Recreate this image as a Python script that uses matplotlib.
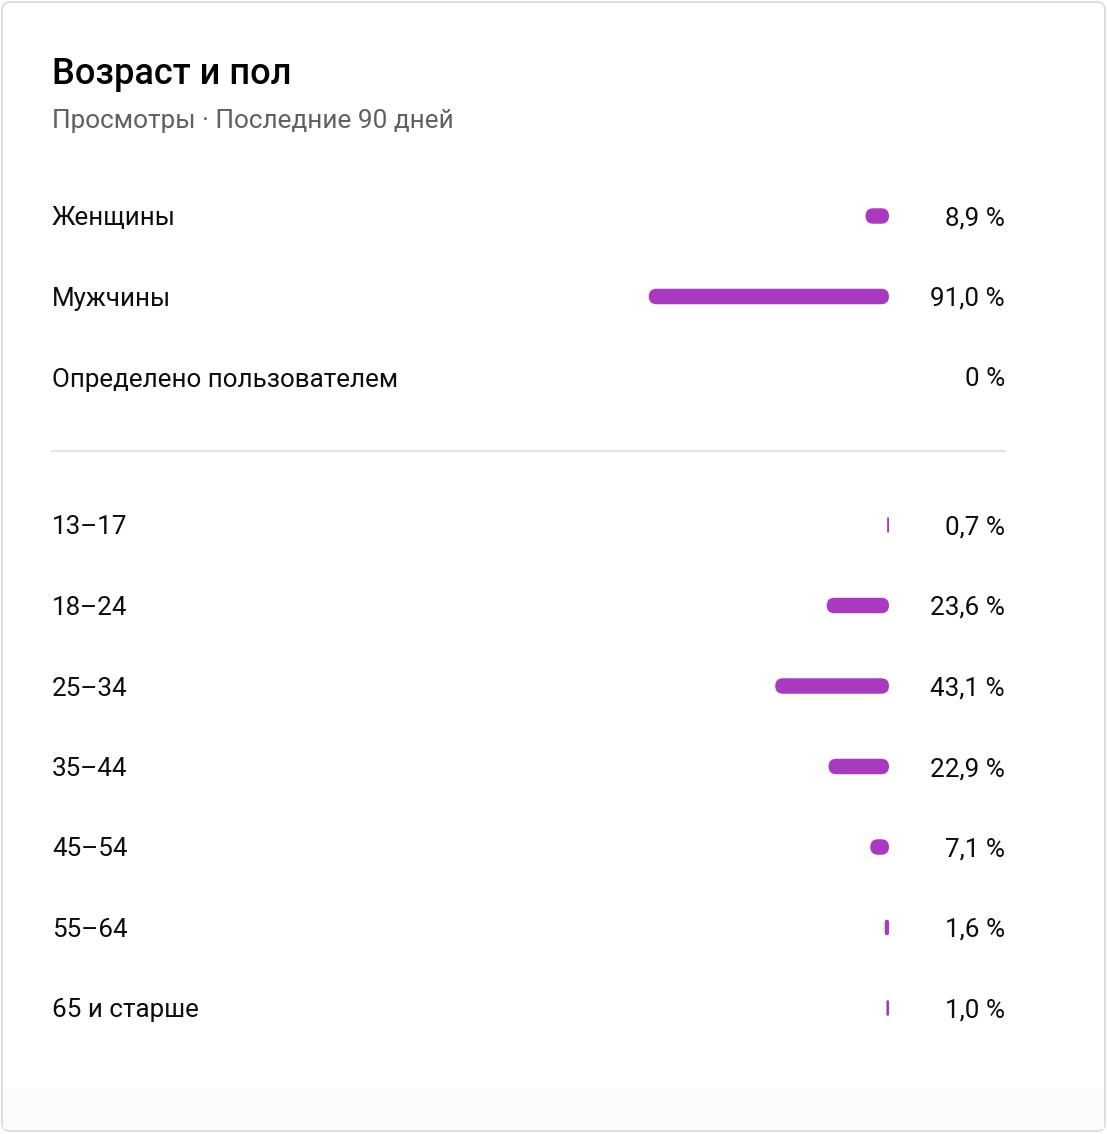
import matplotlib.pyplot as plt
from matplotlib.patches import FancyBboxPatch
from matplotlib.transforms import blended_transform_factory, offset_copy

plt.rcParams["font.family"] = ["Roboto", "DejaVu Sans"]

# data
title = "Возраст и пол"
subtitle = "Просмотры · Последние 90 дней"
gender_labels = ["Женщины", "Мужчины", "Определено пользователем"]
gender_values = [8.9, 91.0, 0.0]
age_labels = ["13–17", "18–24", "25–34", "35–44", "45–54", "55–64", "65 и старше"]
age_values = [0.7, 23.6, 43.1, 22.9, 7.1, 1.6, 1.0]

# layout (pixels)
W, H = 1107, 1134
LEFT = 52
RIGHT = 1005
BAR_LEFT, BAR_SPAN = 625, 264
BAR_H_PX = 15.5
ROW_STEP = 80.5
BAR_COLOR = "#a93ac0"
TEXT = "#0d0d0d"
ROW_FS = 18.7


def fmt(v):
    if v == 0:
        return "0 %"
    return f"{v:.1f}".replace(".", ",") + " %"


fig = plt.figure(figsize=(W / 100, H / 100), dpi=100)
bg = fig.add_axes([0, 0, 1, 1])
bg.set_xlim(0, W)
bg.set_ylim(H, 0)
bg.axis("off")

# card
bg.add_patch(FancyBboxPatch((2, 2), W - 4, H - 5, boxstyle="round,pad=0,rounding_size=8",
                            fc="white", ec="#dedede", lw=1.4))
bg.add_patch(plt.Rectangle((3, 1088), W - 6, 41, fc="#fbfbfb", ec="none"))

bg.text(LEFT, 84, title, fontsize=26, fontweight="medium", color="#030303", va="baseline")
bg.text(LEFT, 128, subtitle, fontsize=18.8, color="#606060", va="baseline")

bg.plot([LEFT, RIGHT], [451, 451], color="#e5e5e5", lw=1.6)


def add_rows(labels, values, first_row_px):
    n = len(labels)
    y_top = first_row_px - ROW_STEP / 2
    h_px = n * ROW_STEP
    ax = fig.add_axes([BAR_LEFT / W, 1 - (y_top + h_px) / H, BAR_SPAN / W, h_px / H])
    ax.set_xlim(0, 100)
    ax.set_ylim(n - 0.5, -0.5)
    ax.axis("off")

    px_x = BAR_SPAN / 100
    aspect = px_x / ROW_STEP
    bar_h = BAR_H_PX / ROW_STEP
    h_x = BAR_H_PX / px_x
    for i, v in enumerate(values):
        if v <= 0:
            continue
        r = min(v, h_x) / 2
        ax.add_patch(FancyBboxPatch((100 - v, i - bar_h / 2), v, bar_h,
                                    boxstyle=f"round,pad=0,rounding_size={r}",
                                    mutation_aspect=aspect, fc=BAR_COLOR, ec="none"))

    # text baseline sits ~9.5 px below the row centre
    tr = offset_copy(blended_transform_factory(bg.transData, ax.transData),
                     fig=fig, y=-9.5, units="dots")
    for i, (lab, v) in enumerate(zip(labels, values)):
        ax.text(LEFT, i, lab, transform=tr, fontsize=ROW_FS, color=TEXT, va="baseline")
        ax.text(RIGHT, i, fmt(v), transform=tr, fontsize=ROW_FS, color=TEXT,
                va="baseline", ha="right")


add_rows(gender_labels, gender_values, 216)
add_rows(age_labels, age_values, 525)

fig.savefig("out.png", dpi=100)
